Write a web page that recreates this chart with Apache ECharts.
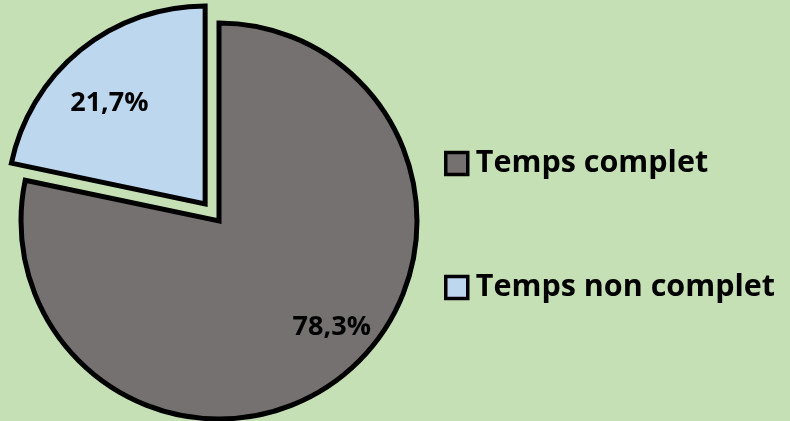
<!DOCTYPE html>
<html>
<head>
<meta charset="utf-8">
<script src="https://cdn.jsdelivr.net/npm/echarts@6/dist/echarts.min.js"></script>
<style>
  html, body { margin: 0; padding: 0; background: #c5e0b4; }
  #main { width: 790px; height: 421px; }
</style>
</head>
<body>
<div id="main"></div>
<script>
// données
var categories = ['Temps complet', 'Temps non complet'];
var values = [78.3, 21.7];
var colors = ['#767171', '#bdd7ee'];

var chart = echarts.init(document.getElementById('main'));

function fmt(v) {
  return v.toFixed(1).replace('.', ',') + '%';
}

// décalage des étiquettes (placement type Excel)
var labelShift = [[17, -12], [0, 17]];

var pieData = [];
var labelData = [];
for (var i = 0; i < categories.length; i++) {
  pieData.push({
    name: categories[i],
    value: values[i],
    selected: i === 1,
    itemStyle: { color: colors[i] }
  });
  labelData.push({
    name: categories[i],
    value: values[i],
    selected: i === 1,
    label: { offset: labelShift[i] },
    select: { label: { offset: labelShift[i] } }
  });
}

var option = {
  backgroundColor: '#c5e0b4',
  animation: false,
  legend: {
    orient: 'vertical',
    left: 439,
    top: 143,
    itemGap: 93,
    itemWidth: 22,
    itemHeight: 22,
    icon: 'rect',
    selectedMode: false,
    itemStyle: { borderColor: '#000', borderWidth: 3.5 },
    textStyle: {
      fontFamily: 'Open Sans',
      fontWeight: 'bold',
      fontSize: 30.5,
      lineHeight: 30,
      color: '#000',
      padding: [0, 0, 0, 3]
    },
    data: categories
  },
  series: [
    {
      // secteurs
      type: 'pie',
      center: [219, 221],
      radius: [0, 198],
      startAngle: 90,
      clockwise: true,
      selectedMode: 'single',
      selectedOffset: 22,
      silent: true,
      label: { show: false },
      labelLine: { show: false },
      itemStyle: { borderColor: '#000', borderWidth: 5, borderJoin: 'miter' },
      select: { itemStyle: { borderColor: '#000', borderWidth: 5 } },
      data: pieData
    },
    {
      // étiquettes
      type: 'pie',
      center: [219, 221],
      radius: [100, 198],
      startAngle: 90,
      clockwise: true,
      selectedMode: 'single',
      selectedOffset: 22,
      silent: true,
      legendHoverLink: false,
      itemStyle: { color: 'rgba(0,0,0,0)', borderWidth: 0 },
      select: { itemStyle: { color: 'rgba(0,0,0,0)', borderWidth: 0 } },
      label: {
        show: true,
        position: 'inside',
        formatter: function (p) { return fmt(p.value); },
        fontFamily: 'Open Sans',
        fontWeight: 'bold',
        fontSize: 27,
        color: '#000'
      },
      labelLine: { show: false },
      data: labelData
    }
  ]
};

chart.setOption(option);
</script>
</body>
</html>
